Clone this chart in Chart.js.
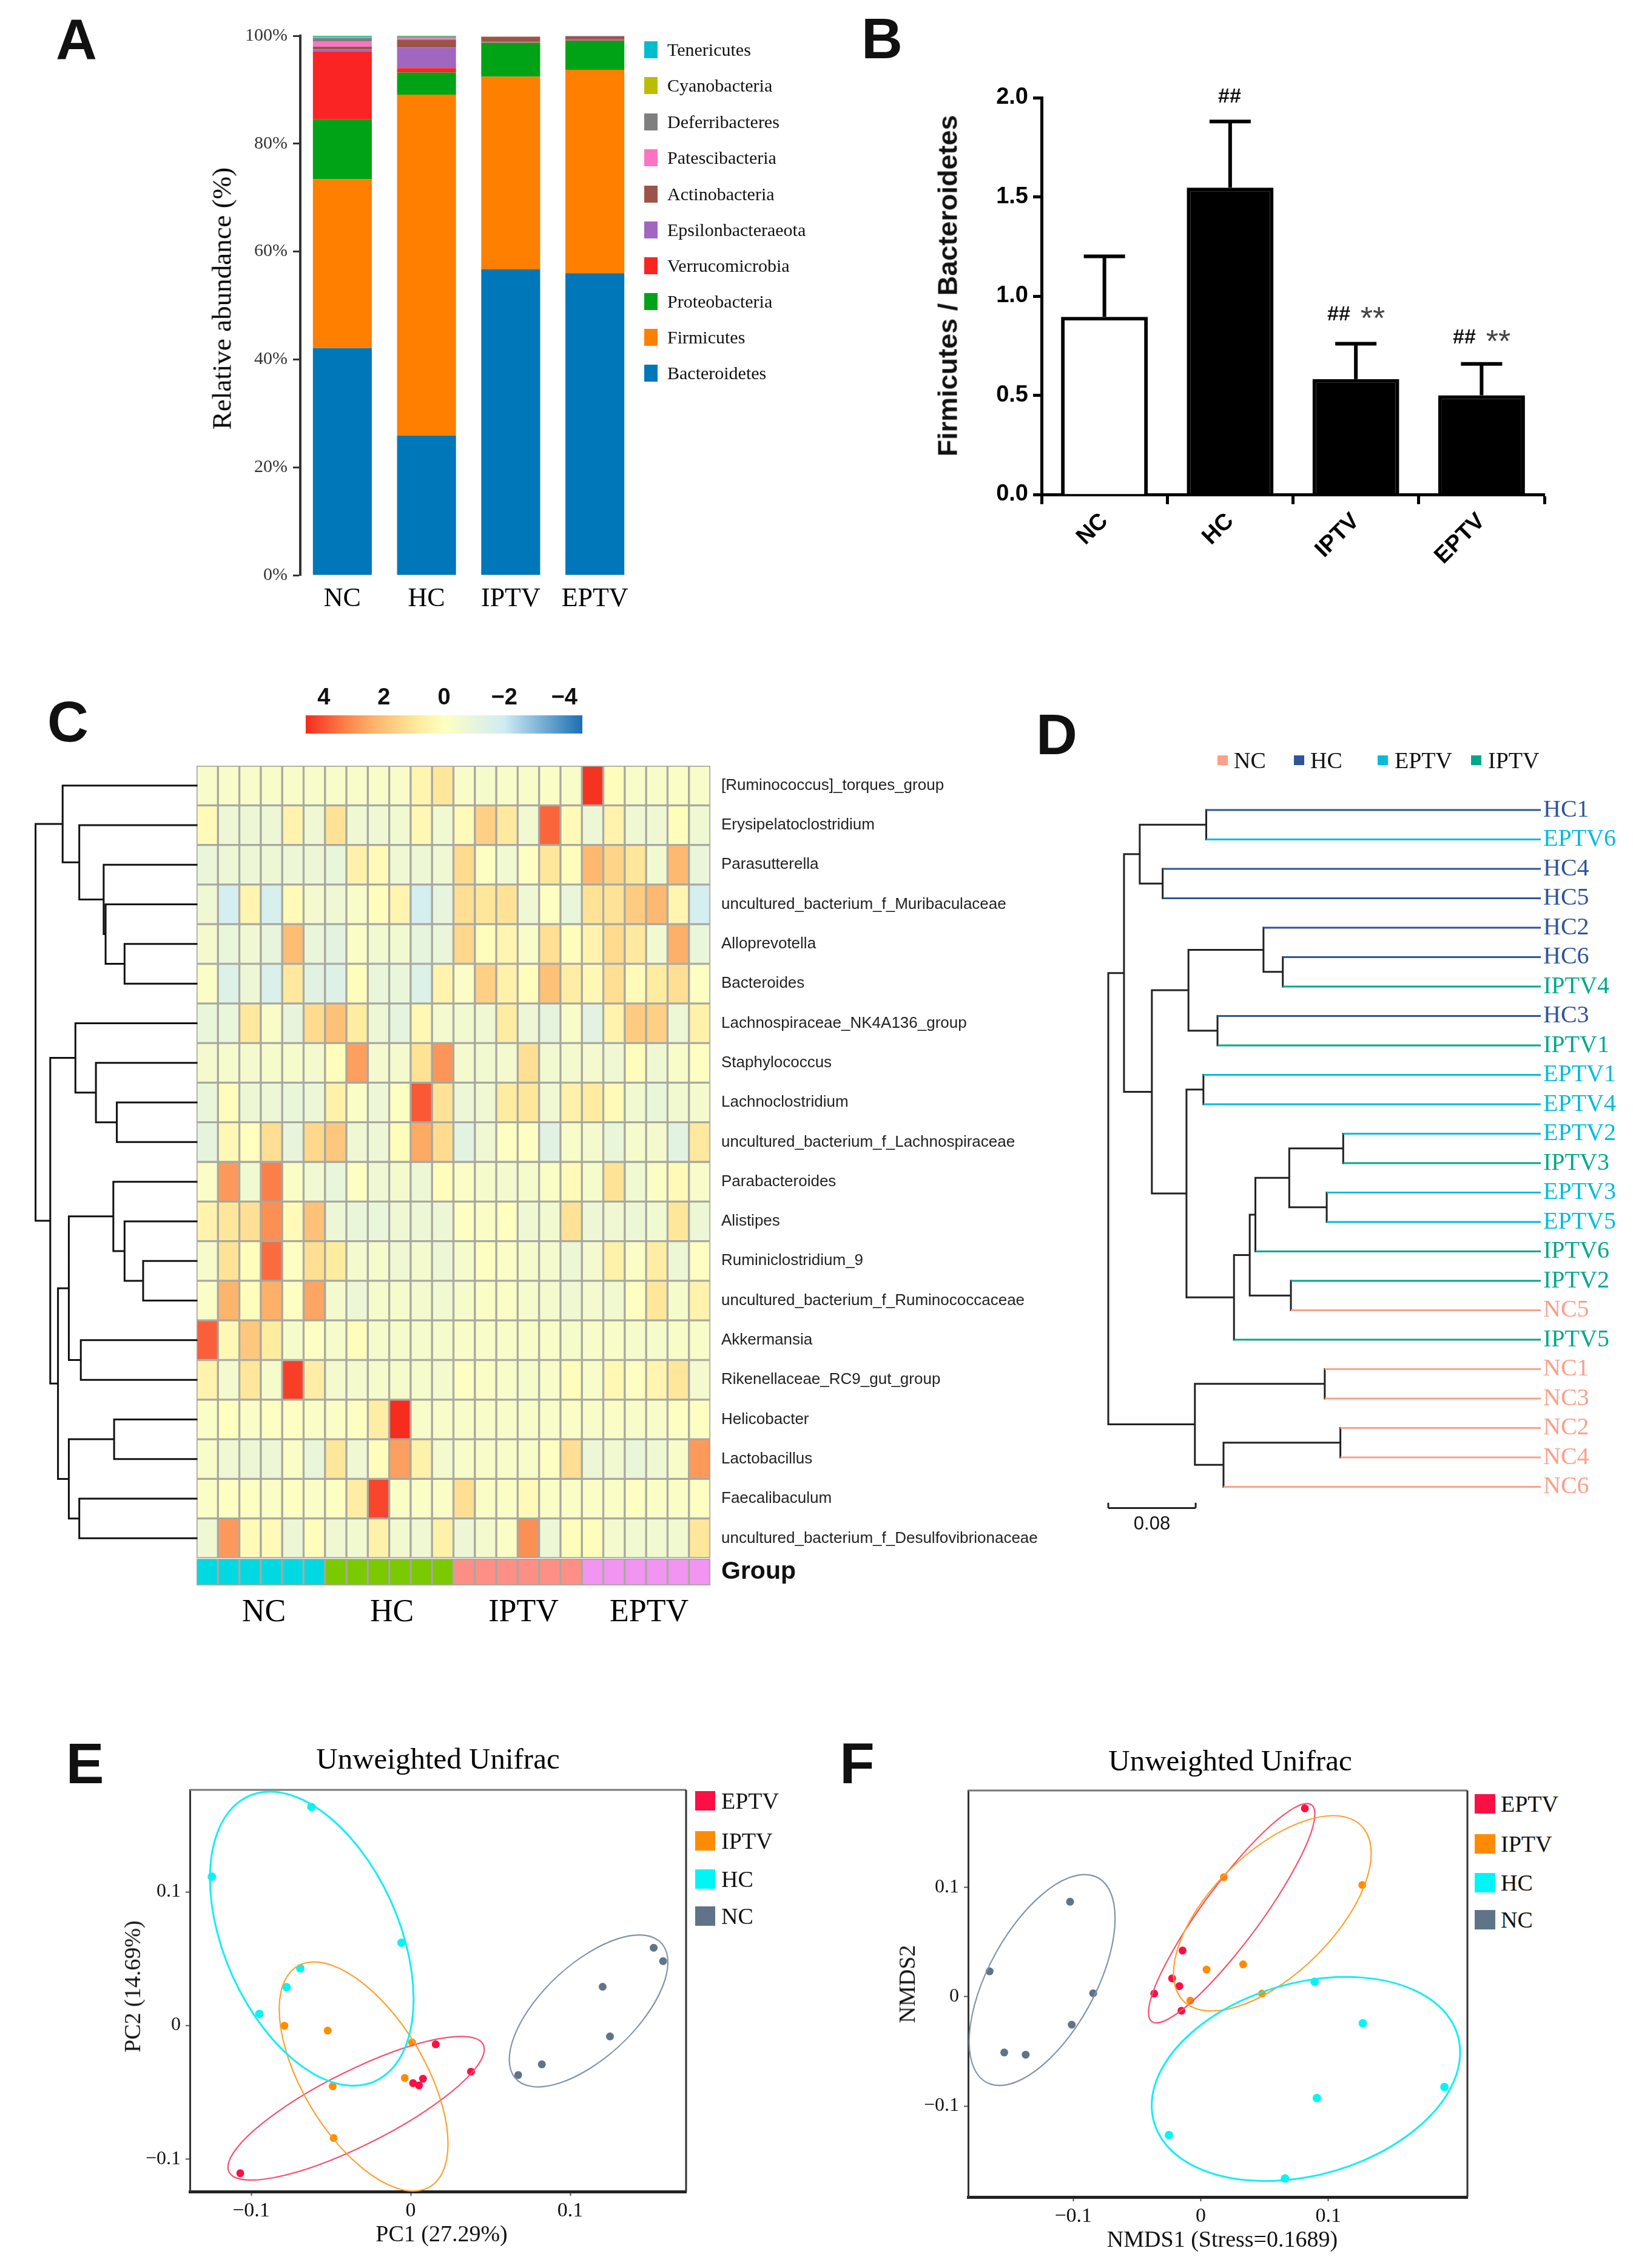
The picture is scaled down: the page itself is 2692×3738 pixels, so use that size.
<!DOCTYPE html>
<html>
<head>
<meta charset="utf-8">
<script src="https://cdn.jsdelivr.net/npm/chart.js"></script>
<style>
  html, body { margin: 0; padding: 0; background: #fff; }
  #page { position: relative; width: 2692px; height: 3738px; overflow: hidden; background: #fff; }
  #page canvas { position: absolute; }
  .txt { position: absolute; white-space: nowrap; line-height: 1; color: #111; }
  .swatch { position: absolute; }
</style>
</head>
<body>
<div id="page"></div>
<script>
var SERIF = '"Liberation Serif"';
var SANS = '"Liberation Sans"';

// panel A
var groups = ['NC', 'HC', 'IPTV', 'EPTV'];
var phylumNames = ['Bacteroidetes', 'Firmicutes', 'Proteobacteria', 'Verrucomicrobia', 'Epsilonbacteraeota', 'Actinobacteria', 'Patescibacteria', 'Deferribacteres', 'Cyanobacteria', 'Tenericutes'];
var phylumColors = ['#0077b8', '#ff7f00', '#00a316', '#fb2424', '#a166bf', '#9c5449', '#fb74c4', '#7f7f7f', '#bcbd00', '#00bdce'];
var bacteroidetes = [42.1, 25.9, 56.7, 56.0];
var firmicutes = [31.3, 63.2, 35.7, 37.7];
var proteobacteria = [11.1, 4.1, 6.3, 5.4];
var verrucomicrobia = [12.6, 0.8, 0.1, 0.05];
var epsilonbacteraeota = [0.4, 3.8, 0.2, 0.3];
var actinobacteria = [0.5, 1.5, 0.8, 0.45];
var patescibacteria = [1.0, 0.3, 0.03, 0.03];
var deferribacteres = [0.6, 0.2, 0.03, 0.03];
var cyanobacteria = [0.2, 0.1, 0.02, 0.02];
var tenericutes = [0.2, 0.1, 0.02, 0.02];

// panel B
var fbRatio = [0.895, 1.547, 0.582, 0.5];
var fbErrorTop = [1.2, 1.88, 0.76, 0.658];

// panel C
var genusNames = ['[Ruminococcus]_torques_group', 'Erysipelatoclostridium', 'Parasutterella', 'uncultured_bacterium_f_Muribaculaceae', 'Alloprevotella', 'Bacteroides', 'Lachnospiraceae_NK4A136_group', 'Staphylococcus', 'Lachnoclostridium', 'uncultured_bacterium_f_Lachnospiraceae', 'Parabacteroides', 'Alistipes', 'Ruminiclostridium_9', 'uncultured_bacterium_f_Ruminococcaceae', 'Akkermansia', 'Rikenellaceae_RC9_gut_group', 'Helicobacter', 'Lactobacillus', 'Faecalibaculum', 'uncultured_bacterium_f_Desulfovibrionaceae'];
var heatValues = [
  [-.3,-.3,-.3,-.3,-.3,-.3,-.3,-.3,-.3,-.3,.4,1.0,-.3,-.4,-.3,-.3,-.2,-.3,4.5,.1,-.3,-.3,-.2,-.3],
  [.2,-.8,-.8,-.8,.5,-.7,1.1,-.7,-.7,-.6,.3,-.6,.2,1.6,.9,-.6,3.7,.2,-.8,.5,-.7,-.7,.1,-.7],
  [-.9,-.8,-.8,-.8,-.8,-.8,-.9,.6,.2,-.7,-.8,-.7,1.3,-.1,-.6,-.1,1.0,.1,2.2,1.5,1.0,-.6,2.2,-.9],
  [-.7,-1.8,.4,-1.7,.2,-.5,-.7,-.3,.1,.4,-1.8,-1.0,1.2,1.0,1.1,-.7,-.1,-.9,1.1,1.1,1.7,2.2,.4,-1.8],
  [-.5,-.9,-.7,-1.0,2.1,-.9,-1.2,-.2,-.6,-.6,-1.1,-.9,1.4,.1,.4,-.3,1.2,.1,.5,1.3,.9,-.6,2.4,-.9],
  [-.2,-1.5,-.8,-1.6,.9,-1.3,-1.4,.1,-.9,-.9,-1.5,.5,-.2,1.6,.6,.1,2.0,.7,.3,1.2,.2,.8,1.2,-.1],
  [-.9,-.9,.9,-.3,-1.0,1.3,2.0,.8,-.8,-1.1,.3,-.5,-.6,-.7,.8,-.8,-1.1,-.3,-1.2,.5,1.7,1.6,-.8,.6],
  [-.5,-.4,-.5,-.4,-.4,-.5,.1,2.7,-.5,-.5,1.1,2.9,-.5,-.6,-.5,1.2,-.6,-.5,-.5,-.7,.1,-.7,-.3,-.1],
  [-.9,.1,-.8,-.8,-.9,-.8,.6,-.2,-.8,-.1,3.9,1.1,-.8,-.7,.8,1.0,-.7,.6,.8,.2,-.6,-.9,-.6,-.5],
  [-1.1,.3,.0,1.2,-1.0,1.4,1.8,-.7,-.8,.1,2.5,1.3,-1.2,-.7,-.1,-.1,-1.3,-.3,-.5,-.9,-.4,-.5,-1.2,.9],
  [-.2,2.8,-.6,3.3,-.2,-.6,-.9,-.1,-.7,-.5,-.8,.1,-.2,-.4,-.5,-.4,-.2,.2,-.4,1.1,-.6,-.2,.2,-.3],
  [.5,1.0,1.2,3.0,.2,2.0,-.8,-.9,-.9,-.7,-.8,-.8,-.1,-.2,.0,-.7,-.6,1.1,-.8,-.7,-.8,-.6,1.0,-.8],
  [-.4,1.1,.1,3.6,-.1,1.2,.8,-.5,-.4,-.7,-.5,-.8,-.4,-.1,-.2,-.4,-.5,-.8,-.5,.6,-.2,.7,-.8,-.1],
  [-.2,2.3,.1,2.4,-.1,2.6,-.5,-.8,-.4,-.4,-.5,-.6,-.4,-.2,-.2,-.4,-.5,-.7,-.5,-.6,-.1,1.0,-.4,.5],
  [3.8,.3,1.8,.8,-.4,-.1,-.4,.1,-.4,-.4,-.4,-.4,-.3,-.3,-.3,-.3,-.3,-.4,-.3,-.3,-.4,-.4,-.3,-.3],
  [.5,-.5,1.0,-.4,4.3,.7,-.5,-.5,-.4,-.4,-.4,-.5,-.1,-.2,-.3,-.4,-.3,.1,-.3,.3,-.1,.4,1.0,-.5],
  [-.2,.0,-.2,-.1,-.1,-.2,-.2,-.1,.7,4.6,-.3,-.3,-.3,-.3,-.3,-.3,-.3,-.2,-.3,-.2,-.3,-.3,-.1,-.1],
  [-.3,-.7,-.8,-.8,-.2,-.9,1.0,-.7,.1,2.7,.6,-.5,-.3,-.3,-.3,-.3,-.1,1.2,-.8,-.6,-.9,-.7,-.3,2.8],
  [-.2,-.1,-.1,-.2,-.1,-.2,-.1,.7,4.2,-.2,-.2,-.2,1.2,-.2,-.2,.2,-.2,-.2,-.2,-.2,-.1,-.2,-.2,-.1],
  [-.7,2.8,.2,.2,-.8,.1,-.7,-.6,.6,-.6,-.7,.6,-.8,-.5,-.2,3.0,-.8,.1,.1,-.5,-.6,-.6,-.6,1.0]
];
var sampleGroupColors = ['#00d9e2', '#00d9e2', '#00d9e2', '#00d9e2', '#00d9e2', '#00d9e2', '#7bc900', '#7bc900', '#7bc900', '#7bc900', '#7bc900', '#7bc900', '#fd8f86', '#fd8f86', '#fd8f86', '#fd8f86', '#fd8f86', '#fd8f86', '#f294f2', '#f294f2', '#f294f2', '#f294f2', '#f294f2', '#f294f2'];
var heatStopValues = [4.6, 3.3, 2.3, 1.0, 0, -1.0, -2.0, -4.6];
var heatStopColors = ['#f52c1e', '#fc7f4a', '#fdb56c', '#fee79a', '#ffffbf', '#e8f5dc', '#d0ecf4', '#1c6fb2'];
var colorbarTicks = [4, 2, 0, -2, -4];
// [height, child, child], a plain number is a row of the heat map
var genusTree = [416,
  [346, 0, [303, 1, [240, 2, [235, 3, [186, 4, 5]]]]],
  [378,
    [313, 6, [260, 7, [206, 8, 9]]],
    [358,
      [330,
        [215, 10, [186, 11, [138, 12, 13]]],
        [299, 14, 15]],
      [330,
        [213, 16, 17],
        [303, 18, 19]]]]];

// panel D
var sampleNames = ['HC1', 'EPTV6', 'HC4', 'HC5', 'HC2', 'HC6', 'IPTV4', 'HC3', 'IPTV1', 'EPTV1', 'EPTV4', 'EPTV2', 'IPTV3', 'EPTV3', 'EPTV5', 'IPTV6', 'IPTV2', 'NC5', 'IPTV5', 'NC1', 'NC3', 'NC2', 'NC4', 'NC6'];
var treeGroups = ['NC', 'HC', 'EPTV', 'IPTV'];
var treeColors = ['#fba08a', '#2f5597', '#00bcdc', '#00a88a'];
var treeTip = 0.396;
var scaleBarLength = 0.08;
var sampleTree = [0,
  [0.0144,
    [0.0288, [0.0897, 'HC1', 'EPTV6'], [0.0498, 'HC4', 'HC5']],
    [0.0399,
      [0.0734, [0.1421, 'HC2', [0.1598, 'HC6', 'IPTV4']], [0.1, 'HC3', 'IPTV1']],
      [0.0716,
        [0.0871, 'EPTV1', 'EPTV4'],
        [0.1151,
          [0.1295,
            [0.1347, [0.1657, [0.2151, 'EPTV2', 'IPTV3'], [0.2, 'EPTV3', 'EPTV5']], 'IPTV6'],
            [0.1672, 'IPTV2', 'NC5']],
          'IPTV5']]]],
  [0.0793, [0.1982, 'NC1', 'NC3'], [0.1055, [0.2125, 'NC2', 'NC4'], 'NC6']]];

// panels E and F
var ordNames = ['EPTV', 'IPTV', 'HC', 'NC'];
var ordColors = ['#fb0f45', '#ff8c00', '#00f5f5', '#5f7488'];
var ellipseColors = ['#f7506f', '#ffa030', '#14eef2', '#8494a3'];
var pcoaEptv = [[-.1068, -.1108], [.0157, -.0142], [.0378, -.0347], [.0077, -.04], [.0015, -.0433], [.0052, -.045]];
var pcoaIptv = [[-.0791, -.0003], [-.052, -.0039], [.0009, -.0128], [-.0037, -.0394], [-.0489, -.0456], [-.0483, -.0844]];
var pcoaHc = [[-.1246, .1114], [-.0622, .1636], [-.0058, .0619], [-.0692, .0428], [-.0778, .0286], [-.0948, .0086]];
var pcoaNc = [[.1523, .0581], [.1582, .0481], [.1203, .0289], [.1249, -.0083], [.0822, -.0292], [.0674, -.0372]];
// centre x, centre y, half width, half height, tilt
var pcoaEllipses = [[-.0342, -.0621, .0803, .0538, .82], [-.0295, -.0383, .0529, .0858, -.587], [-.062, .0649, .0638, .1101, -.41], [.1115, .0108, .0497, .0569, .64]];
var nmdsEptv = [[.0816, .1719], [-.0143, .042], [-.0225, .0166], [-.0168, .0095], [-.0365, .0027], [-.0152, -.0129]];
var nmdsIptv = [[.018, .109], [.1266, .1019], [.0045, .0247], [.0332, .0294], [.048, .0027], [-.0082, -.0037]];
var nmdsHc = [[.0893, .0135], [.127, -.0244], [.091, -.0927], [.191, -.0826], [-.025, -.1266], [.066, -.1662]];
var nmdsNc = [[-.1025, .0866], [-.1656, .023], [-.0844, .003], [-.1012, -.0257], [-.1541, -.0511], [-.1373, -.0531]];
var nmdsEllipses = [[.0242, .0761, .0652, .1002, .906], [.0561, .076, .0775, .0892, .614], [.0824, -.0753, .1209, .0932, .261], [-.1244, .0151, .0572, .0963, .584]];
var ordTicks = [-0.1, 0, 0.1];


var page = document.getElementById('page');

function addText(text, x, y, font, opts) {
  opts = opts || {};
  var d = document.createElement('div');
  d.className = 'txt';
  d.textContent = text;
  d.style.font = font;
  d.style.lineHeight = '1';
  d.style.left = x + 'px';
  d.style.top = y + 'px';
  if (opts.color) d.style.color = opts.color;
  var tr = opts.left ? 'translate(0,-50%)' : 'translate(-50%,-50%)';
  if (opts.rotate) tr += ' rotate(' + opts.rotate + 'deg)';
  d.style.transform = tr;
  page.appendChild(d);
}

function addSwatch(x, y, w, h, color) {
  var d = document.createElement('div');
  d.className = 'swatch';
  d.style.cssText = 'left:' + x + 'px;top:' + y + 'px;width:' + w + 'px;height:' + h + 'px;background:' + color;
  page.appendChild(d);
}

// canvas goes at box, chart area lands on plot, space is the room kept for the axes
function makeChart(box, plot, space, cfg) {
  var c = document.createElement('canvas');
  c.width = box[2];
  c.height = box[3];
  c.style.left = box[0] + 'px';
  c.style.top = box[1] + 'px';
  c.style.width = box[2] + 'px';
  c.style.height = box[3] + 'px';
  page.appendChild(c);
  var sp = { left: space.left || 0, right: space.right || 0, top: space.top || 0, bottom: space.bottom || 0 };
  var o = cfg.options = cfg.options || {};
  o.responsive = false;
  o.animation = false;
  o.devicePixelRatio = 1;
  o.layout = { padding: {
    left: plot[0] - box[0] - sp.left,
    top: plot[1] - box[1] - sp.top,
    right: box[0] + box[2] - plot[2] - sp.right,
    bottom: box[1] + box[3] - plot[3] - sp.bottom
  } };
  o.plugins = o.plugins || {};
  o.plugins.legend = { display: false };
  o.plugins.tooltip = { enabled: false };
  Object.keys(o.scales).forEach(function(k) {
    var s = o.scales[k];
    if (s.display === false) return;
    s.afterFit = function(scale) {
      if (scale.isHorizontal()) scale.height = scale.position === 'top' ? sp.top : sp.bottom;
      else scale.width = scale.position === 'right' ? sp.right : sp.left;
    };
  });
  return new Chart(c.getContext('2d'), cfg);
}

function fixedTicks(values) {
  return function(scale) {
    scale.ticks = values.map(function(v) { return { value: v }; });
  };
}

function heatColor(v) {
  var i = 0;
  while (i < heatStopValues.length - 2 && v < heatStopValues[i + 1]) i++;
  var t = (heatStopValues[i] - v) / (heatStopValues[i] - heatStopValues[i + 1]);
  t = Math.max(0, Math.min(1, t));
  var a = heatStopColors[i], b = heatStopColors[i + 1], out = [];
  for (var k = 1; k < 7; k += 2) {
    var p = parseInt(a.substr(k, 2), 16), q = parseInt(b.substr(k, 2), 16);
    out.push(Math.round(p + (q - p) * t));
  }
  return 'rgb(' + out.join(',') + ')';
}

function signedTick(v) {
  if (v === 0) return '0';
  return (v < 0 ? '\u2212' : '') + Math.abs(v);
}

function addSeg(list, x1, y1, x2, y2) {
  list.push({ x: x1, y: y1 }, { x: x2, y: y2 }, { x: NaN, y: NaN });
}

// walks a nested tree, black gets the inner lines, onLeaf gets the tip lines
function walkTree(node, black, onLeaf, leafRow) {
  var ya = placeChild(node[1], node[0], black, onLeaf, leafRow);
  var yb = placeChild(node[2], node[0], black, onLeaf, leafRow);
  addSeg(black, node[0], ya, node[0], yb);
  return (ya + yb) / 2;
}
function placeChild(child, parentX, black, onLeaf, leafRow) {
  if (!Array.isArray(child)) {
    var row = leafRow(child);
    onLeaf(child, parentX, row);
    return row;
  }
  var y = walkTree(child, black, onLeaf, leafRow);
  addSeg(black, parentX, y, child[0], y);
  return y;
}

var errorBars = {
  id: 'errorBars',
  afterDatasetsDraw: function(chart) {
    var meta = chart.getDatasetMeta(0), ys = chart.scales.y, ctx = chart.ctx;
    ctx.save();
    ctx.strokeStyle = '#000';
    ctx.lineWidth = 6;
    fbErrorTop.forEach(function(top, i) {
      var x = meta.data[i].x;
      ctx.beginPath();
      ctx.moveTo(x, ys.getPixelForValue(fbRatio[i]));
      ctx.lineTo(x, ys.getPixelForValue(top));
      ctx.moveTo(x - 34, ys.getPixelForValue(top));
      ctx.lineTo(x + 34, ys.getPixelForValue(top));
      ctx.stroke();
    });
    ctx.restore();
  }
};

// top and right edge of the box, then the group ellipses
var ordPlot = {
  id: 'ordPlot',
  afterDatasetsDraw: function(chart, args, opts) {
    var ctx = chart.ctx, xs = chart.scales.x, ys = chart.scales.y, a = chart.chartArea;
    ctx.save();
    ctx.lineWidth = 3;
    ctx.strokeStyle = '#777';
    ctx.beginPath();
    ctx.moveTo(a.left, a.top);
    ctx.lineTo(a.right, a.top);
    ctx.stroke();
    ctx.strokeStyle = '#333';
    ctx.beginPath();
    ctx.moveTo(a.right, a.top);
    ctx.lineTo(a.right, a.bottom);
    ctx.stroke();
    opts.list.forEach(function(e, i) {
      var hx = Math.abs(xs.getPixelForValue(e[2]) - xs.getPixelForValue(0));
      var hy = Math.abs(ys.getPixelForValue(e[3]) - ys.getPixelForValue(0));
      ctx.save();
      ctx.transform(hx, -hy * e[4], 0, -hy * Math.sqrt(1 - e[4] * e[4]), xs.getPixelForValue(e[0]), ys.getPixelForValue(e[1]));
      ctx.beginPath();
      ctx.arc(0, 0, 1, 0, Math.PI * 2);
      ctx.restore();
      ctx.strokeStyle = ellipseColors[i];
      ctx.lineWidth = i === 2 ? 3 : 2.2;
      ctx.stroke();
    });
    ctx.restore();
  }
};

function toPoints(list) {
  return list.map(function(p) { return { x: p[0], y: p[1] }; });
}

function ordChart(box, plot, xMin, xMax, yMin, yMax, series, ellipses) {
  var axisCommon = {
    type: 'linear',
    afterBuildTicks: fixedTicks(ordTicks),
    grid: { drawOnChartArea: false, drawTicks: true, tickLength: 7, tickColor: '#555', tickWidth: 2 }
  };
  return makeChart(box, plot, { left: 90, bottom: 70 }, {
    type: 'scatter',
    data: { datasets: series.map(function(s, i) {
      return { label: ordNames[i], data: toPoints(s), pointRadius: i === 2 ? 7 : 6.5, backgroundColor: ordColors[i], borderWidth: 0, clip: false };
    }) },
    options: {
      plugins: { ordPlot: { list: ellipses } },
      scales: {
        x: Object.assign({}, axisCommon, { min: xMin, max: xMax, border: { display: true, color: '#222', width: 5 }, ticks: { callback: signedTick, color: '#111', padding: 5, font: { family: SERIF, size: 34 } } }),
        y: Object.assign({}, axisCommon, { min: yMin, max: yMax, border: { display: true, color: '#333', width: 3 }, ticks: { callback: signedTick, color: '#111', padding: 8, font: { family: SERIF, size: 32 } } })
      }
    },
    plugins: [ordPlot]
  });
}


// ---- A stacked bars
var phylumData = [bacteroidetes, firmicutes, proteobacteria, verrucomicrobia, epsilonbacteraeota, actinobacteria, patescibacteria, deferribacteres, cyanobacteria, tenericutes];
makeChart([330, 10, 760, 1020], [495, 59, 1050, 948], { left: 110, bottom: 70 }, {
  type: 'bar',
  data: {
    labels: groups,
    datasets: phylumNames.map(function(name, i) {
      return { label: name, data: phylumData[i], backgroundColor: phylumColors[i], barPercentage: 0.7, categoryPercentage: 1, stack: 'a' };
    })
  },
  options: {
    scales: {
      x: {
        stacked: true,
        border: { display: false },
        grid: { display: false, drawTicks: false },
        ticks: { color: '#000', padding: 13, font: { family: SERIF, size: 44 } }
      },
      y: {
        stacked: true,
        min: 0,
        max: 100,
        border: { display: true, color: '#333', width: 4 },
        grid: { drawOnChartArea: false, tickLength: 12, tickColor: '#333', tickWidth: 3 },
        ticks: { stepSize: 20, color: '#333', padding: 9, font: { family: SERIF, size: 30 }, callback: function(v) { return v + '%'; } }
      }
    }
  }
});
addText('Relative abundance (%)', 366, 492, '45px ' + SERIF, { rotate: -90, color: '#000' });
var legendY = [615, 556, 497, 438, 379, 320, 260, 201, 141, 82];
phylumNames.forEach(function(name, i) {
  addSwatch(1062, legendY[i] - 14, 22, 28, phylumColors[i]);
  addText(name, 1100, legendY[i], '30px ' + SERIF, { left: true });
});

// ---- B ratio bars
makeChart([1580, 100, 1000, 940], [1717, 161, 2546, 815], { left: 110, bottom: 170 }, {
  type: 'bar',
  data: {
    labels: groups,
    datasets: [{
      label: 'Firmicutes / Bacteroidetes',
      data: fbRatio,
      backgroundColor: ['#fff', '#000', '#000', '#000'],
      borderColor: '#000',
      borderWidth: 6,
      barPercentage: 0.69,
      categoryPercentage: 1
    }]
  },
  options: {
    scales: {
      x: {
        border: { display: true, color: '#000', width: 5 },
        grid: { drawOnChartArea: false, tickLength: 16, tickColor: '#000', tickWidth: 5 },
        ticks: { color: '#000', padding: 6, maxRotation: 45, minRotation: 45, font: { family: SANS, size: 38, weight: 'bold' } }
      },
      y: {
        min: 0,
        max: 2,
        border: { display: true, color: '#000', width: 5 },
        grid: { drawOnChartArea: false, tickLength: 14, tickColor: '#000', tickWidth: 5 },
        ticks: { stepSize: 0.5, color: '#000', padding: 8, font: { family: SANS, size: 38, weight: 'bold' }, callback: function(v) { return v.toFixed(1); } }
      }
    }
  },
  plugins: [errorBars]
});
addText('Firmicutes / Bacteroidetes', 1562, 471, 'bold 45px ' + SANS, { rotate: -90 });
addText('##', 2027, 157, 'bold 34px ' + SANS);
addText('##', 2207, 516, 'bold 34px ' + SANS);
addText('**', 2263, 524, '52px ' + SANS, { color: '#444' });
addText('##', 2414, 554, 'bold 34px ' + SANS);
addText('**', 2470, 562, '52px ' + SANS, { color: '#444' });

// ---- C heat map
var columnIndex = heatValues[0].map(function(v, c) { return c; });
makeChart([300, 1200, 1500, 1430], [324, 1262, 1171, 2568], { right: 640 }, {
  type: 'bar',
  data: {
    labels: genusNames,
    datasets: columnIndex.map(function(c) {
      return {
        data: genusNames.map(function() { return 1; }),
        backgroundColor: heatValues.map(function(row) { return heatColor(row[c]); }),
        borderColor: '#a8a8a0',
        borderWidth: 2,
        borderSkipped: false,
        barPercentage: 1,
        categoryPercentage: 1
      };
    })
  },
  options: {
    indexAxis: 'y',
    scales: {
      x: { display: false, stacked: true, min: 0, max: columnIndex.length },
      y: {
        position: 'right',
        stacked: true,
        border: { display: false },
        grid: { display: false, drawTicks: false },
        ticks: { autoSkip: false, color: '#222', padding: 18, font: { family: SANS, size: 26 } }
      }
    }
  }
});
// group strip under the heat map
makeChart([300, 2500, 1100, 180], [324, 2569, 1171, 2613], { right: 200 }, {
  type: 'bar',
  data: {
    labels: ['Group'],
    datasets: columnIndex.map(function(c) {
      return { data: [1], backgroundColor: sampleGroupColors[c], borderColor: '#a8a8a0', borderWidth: 2, borderSkipped: false, barPercentage: 1, categoryPercentage: 1 };
    })
  },
  options: {
    indexAxis: 'y',
    scales: {
      x: { display: false, stacked: true, min: 0, max: columnIndex.length },
      y: {
        position: 'right',
        stacked: true,
        border: { display: false },
        grid: { display: false, drawTicks: false },
        ticks: { autoSkip: false, color: '#111', padding: 18, font: { family: SANS, size: 41, weight: 'bold' } }
      }
    }
  }
});
addText('NC', 435, 2655, '52px ' + SERIF, { color: '#000' });
addText('HC', 646, 2655, '52px ' + SERIF, { color: '#000' });
addText('IPTV', 863, 2655, '52px ' + SERIF, { color: '#000' });
addText('EPTV', 1070, 2655, '52px ' + SERIF, { color: '#000' });

// colour key
makeChart([480, 1110, 510, 110], [504, 1179, 960, 1209], { top: 60 }, {
  type: 'bar',
  data: {
    labels: ['z'],
    datasets: [{
      data: [[heatStopValues[heatStopValues.length - 1], heatStopValues[0]]],
      barPercentage: 1,
      categoryPercentage: 1,
      borderSkipped: false,
      backgroundColor: function(ctx) {
        var a = ctx.chart.chartArea;
        if (!a) return '#ffffbf';
        var xs = ctx.chart.scales.x;
        var g = ctx.chart.ctx.createLinearGradient(a.left, 0, a.right, 0);
        heatStopValues.forEach(function(v, i) {
          g.addColorStop((xs.getPixelForValue(v) - a.left) / (a.right - a.left), heatStopColors[i]);
        });
        return g;
      }
    }]
  },
  options: {
    indexAxis: 'y',
    scales: {
      x: {
        type: 'linear',
        position: 'top',
        reverse: true,
        min: heatStopValues[heatStopValues.length - 1],
        max: heatStopValues[0],
        afterBuildTicks: fixedTicks(colorbarTicks),
        border: { display: false },
        grid: { display: false, drawTicks: false },
        ticks: { color: '#111', padding: 6, callback: signedTick, font: { family: SANS, size: 38, weight: 'bold' } }
      },
      y: { display: false }
    }
  }
});

// dendrogram of the genera
var genusLines = [];
walkTree(genusTree, genusLines, function(leaf, parentX, row) {
  addSeg(genusLines, parentX, row, 0, row);
}, function(leaf) { return leaf; });
makeChart([0, 1240, 330, 1340], [5, 1262, 324, 2568], {}, {
  type: 'scatter',
  data: { datasets: [{ data: genusLines, showLine: true, pointRadius: 0, borderColor: '#111', borderWidth: 3, borderCapStyle: 'square', clip: false }] },
  options: {
    scales: {
      x: { display: false, type: 'linear', reverse: true, min: 0, max: 500 },
      y: { display: false, type: 'linear', reverse: true, min: -0.5, max: genusNames.length - 0.5 }
    }
  }
});

// ---- D sample tree
var sampleLines = [];
var tipLines = treeGroups.map(function() { return []; });
function sampleGroup(name) {
  return treeGroups.indexOf(name.replace(/[0-9]/g, ''));
}
walkTree(sampleTree, sampleLines, function(leaf, parentX, row) {
  addSeg(tipLines[sampleGroup(leaf)], parentX, row, treeTip, row);
}, function(leaf) { return sampleNames.indexOf(leaf); });
var barLines = [];
addSeg(barLines, 0, 23.72, scaleBarLength, 23.72);
addSeg(barLines, 0, 23.72, 0, 23.54);
addSeg(barLines, scaleBarLength, 23.72, scaleBarLength, 23.54);
var sampleRows = sampleNames.map(function(n, i) { return i; });
var treeSets = [{ data: sampleLines, showLine: true, pointRadius: 0, borderColor: '#222', borderWidth: 3, borderCapStyle: 'square', clip: false },
  { data: barLines, showLine: true, pointRadius: 0, borderColor: '#222', borderWidth: 3, clip: false }];
treeGroups.forEach(function(g, i) {
  treeSets.unshift({ label: g, data: tipLines[i], showLine: true, pointRadius: 0, borderColor: treeColors[i], borderWidth: 3, clip: false });
});
makeChart([1800, 1250, 892, 1330], [1827, 1310.75, 2540, 2523.25], { right: 140 }, {
  type: 'scatter',
  data: { datasets: treeSets },
  options: {
    scales: {
      x: { display: false, type: 'linear', min: 0, max: treeTip },
      y: {
        type: 'linear',
        position: 'right',
        reverse: true,
        min: -0.5,
        max: 24.5,
        afterBuildTicks: fixedTicks(sampleRows),
        border: { display: false },
        grid: { display: false, drawTicks: false },
        ticks: {
          autoSkip: false,
          padding: 4,
          font: { family: SERIF, size: 40 },
          color: function(ctx) {
            var n = sampleNames[ctx.tick.value];
            return n ? treeColors[sampleGroup(n)] : '#000';
          },
          callback: function(v) { return sampleNames[v]; }
        }
      }
    }
  }
});
addText('0.08', 1899, 2510, '31px ' + SANS);
var treeLegendX = [2007, 2133, 2271, 2425];
var treeLegendTextX = [2034, 2160, 2299, 2453];
treeGroups.forEach(function(g, i) {
  addSwatch(treeLegendX[i], 1245, 17, 16, treeColors[i]);
  addText(g, treeLegendTextX[i], 1253, '38px ' + SERIF, { left: true });
});

// ---- E and F ordination
ordChart([190, 2900, 960, 810], [313, 2950, 1131, 3612], -0.1384, 0.1726, -0.1245, 0.1764, [pcoaEptv, pcoaIptv, pcoaHc, pcoaNc], pcoaEllipses);
addText('Unweighted Unifrac', 722, 2898, '49px ' + SERIF, { color: '#000' });
addText('PC1 (27.29%)', 728, 3681, '38px ' + SERIF);
addText('PC2 (14.69%)', 218, 3274, '38px ' + SERIF, { rotate: -90 });
var pcoaLegendY = [2968, 3034, 3097, 3158];
ordNames.forEach(function(n, i) {
  addSwatch(1146, pcoaLegendY[i] - 16, 33, 32, ordColors[i]);
  addText(n, 1189, pcoaLegendY[i], '38px ' + SERIF, { left: true });
});

ordChart([1470, 2900, 960, 820], [1596, 2951, 2419, 3621], -0.1824, 0.209, -0.1831, 0.1882, [nmdsEptv, nmdsIptv, nmdsHc, nmdsNc], nmdsEllipses);
addText('Unweighted Unifrac', 2028, 2901, '49px ' + SERIF, { color: '#000' });
addText('NMDS1 (Stress=0.1689)', 2015, 3690, '38px ' + SERIF);
addText('NMDS2', 1495, 3270, '38px ' + SERIF, { rotate: -90 });
var nmdsLegendY = [2973, 3039, 3103, 3164];
ordNames.forEach(function(n, i) {
  addSwatch(2431, nmdsLegendY[i] - 16, 34, 32, ordColors[i]);
  addText(n, 2474, nmdsLegendY[i], '38px ' + SERIF, { left: true });
});

// panel letters
addText('A', 126, 66, 'bold 94px ' + SANS);
addText('B', 1454, 64, 'bold 94px ' + SANS);
addText('C', 112, 1190, 'bold 94px ' + SANS);
addText('D', 1742, 1211, 'bold 94px ' + SANS);
addText('E', 140, 2907, 'bold 94px ' + SANS);
addText('F', 1413, 2907, 'bold 94px ' + SANS);
</script>
</body>
</html>
